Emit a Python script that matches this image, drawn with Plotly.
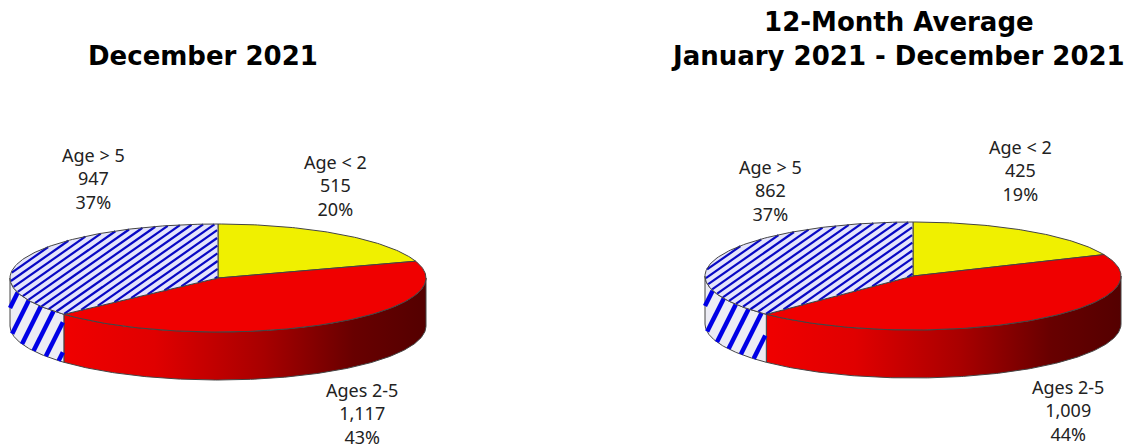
import numpy as np
import plotly.graph_objects as go

CATS = ["Age < 2", "Ages 2-5", "Age > 5"]
DEC_VALUES = [515, 1117, 947]
AVG_VALUES = [425, 1009, 862]
DEC_PCT = ["20%", "43%", "37%"]
AVG_PCT = ["19%", "44%", "37%"]
DEC_TITLE = "December 2021"
AVG_TITLE = "12-Month Average<br>January 2021 - December 2021"

RX, RY, DEPTH = 208, 54, 48
FONT = "Noto Sans"
BOLD = "DejaVu Sans"
EDGE = "#444444"

fig = go.Figure()


def pt(cx, cy, a):
    return cx + RX * np.sin(a), cy - RY * np.cos(a)


def add_poly(x, y, **kw):
    fig.add_trace(go.Scatter(x=x, y=y, mode="lines", fill="toself", hoverinfo="skip",
                             showlegend=False, **kw))


def stripes(xmin, xmax, ymin, ymax, slope, gap, phase, mask, color, width):
    xs = np.linspace(xmin, xmax, 700)
    X, Y = [], []
    lo = ymin + slope * xmin
    lo = lo - ((lo - phase) % gap)
    for c in np.arange(lo, ymax + slope * xmax + gap, gap):
        ys = c - slope * xs
        keep = mask(xs, ys)
        X.extend(np.where(keep, xs, np.nan).tolist() + [None])
        Y.extend(np.where(keep, ys, np.nan).tolist() + [None])
    fig.add_trace(go.Scatter(x=X, y=Y, mode="lines", line=dict(color=color, width=width),
                             connectgaps=False, hoverinfo="skip", showlegend=False))


def pie(cx, cy, values):
    frac = np.cumsum([0] + list(values)) / sum(values)
    ang = frac * 2 * np.pi
    a = np.linspace(np.pi / 2, ang[2], 200)
    x, y = pt(cx, cy, a)
    add_poly(np.r_[x, x[::-1], x[0]], np.r_[y, y[::-1] + DEPTH, y[0]],
             line=dict(color=EDGE, width=1),
             fillgradient=dict(type="horizontal",
                               colorscale=[[0, "#f00000"], [0.25, "#e00000"], [0.55, "#a80000"],
                                           [0.8, "#680000"], [1, "#540000"]]))
    a = np.linspace(ang[2], 1.5 * np.pi, 60)
    x, y = pt(cx, cy, a)
    add_poly(np.r_[x, x[::-1], x[0]], np.r_[y, y[::-1] + DEPTH, y[0]],
             fillcolor="#ececf4", line=dict(color=EDGE, width=1))
    x_end = x[0]

    def side_mask(px, py):
        s = np.clip((px - cx) / RX, -1, 1)
        top = cy + RY * np.sqrt(1 - s ** 2)
        return (px >= cx - RX) & (px <= x_end - 1) & (py >= top) & (py <= top + DEPTH)

    stripes(cx - RX, x_end, cy, cy + RY + DEPTH, 2.0, 30, 448 + 2.0 * (cx - 218) + (cy - 278),
            side_mask, "#0000e6", 4.5)

    a = np.linspace(ang[0], ang[1], 80)
    x, y = pt(cx, cy, a)
    add_poly(np.r_[cx, x, cx], np.r_[cy, y, cy], fillcolor="#f0f000", line=dict(color=EDGE, width=1))
    a = np.linspace(ang[1], ang[2], 160)
    x, y = pt(cx, cy, a)
    add_poly(np.r_[cx, x, cx], np.r_[cy, y, cy], fillcolor="#f00000", line=dict(color=EDGE, width=1))
    a = np.linspace(ang[2], ang[3], 120)
    x, y = pt(cx, cy, a)
    add_poly(np.r_[cx, x, cx], np.r_[cy, y, cy], fillcolor="#e4e4fc", line=dict(color="rgba(0,0,0,0)", width=0))
    lo, hi = ang[2], ang[3]

    def top_mask(px, py):
        u, v = (px - cx) / RX, (cy - py) / RY
        th = np.mod(np.arctan2(u, v), 2 * np.pi)
        return (u ** 2 + v ** 2 <= 0.995) & (th >= lo + 0.004) & (th <= hi - 0.004)

    stripes(cx - RX, cx, cy - RY, cy + RY, 0.7, 7.8, 0, top_mask, "#0808c4", 2.2)
    fig.add_trace(go.Scatter(x=np.r_[cx, x, cx], y=np.r_[cy, y, cy], mode="lines",
                             line=dict(color=EDGE, width=1), hoverinfo="skip", showlegend=False))


def labels(values, pcts, spots):
    for cat, v, p, (lx, ly) in zip(CATS, values, pcts, spots):
        fig.add_annotation(x=lx, y=ly, text=f"{cat}<br>{v:,}<br>{p}", showarrow=False,
                           font=dict(family=FONT, size=18, color="#222222"), align="center",
                           xanchor="center", yanchor="middle")


pie(218, 278, DEC_VALUES)
pie(913, 276, AVG_VALUES)
labels(DEC_VALUES, DEC_PCT, [(335, 185), (362, 413), (93, 178)])
labels(AVG_VALUES, AVG_PCT, [(1020, 170), (1068, 410), (770, 190)])

for t, x, y in [(DEC_TITLE, 203, 56), (AVG_TITLE, 898, 39)]:
    fig.add_annotation(x=x, y=y, text=t, showarrow=False, align="center",
                       font=dict(family=BOLD, size=26, color="#000000", weight="bold"))

fig.update_layout(width=1140, height=448, margin=dict(l=0, r=0, t=0, b=0),
                  paper_bgcolor="white", plot_bgcolor="white", showlegend=False,
                  xaxis=dict(range=[0, 1140], visible=False, fixedrange=True),
                  yaxis=dict(range=[448, 0], visible=False, fixedrange=True))
fig.write_html("out.html", config={"displayModeBar": False},
               post_script="document.documentElement.style.overflow='hidden';document.body.style.margin='0';")
